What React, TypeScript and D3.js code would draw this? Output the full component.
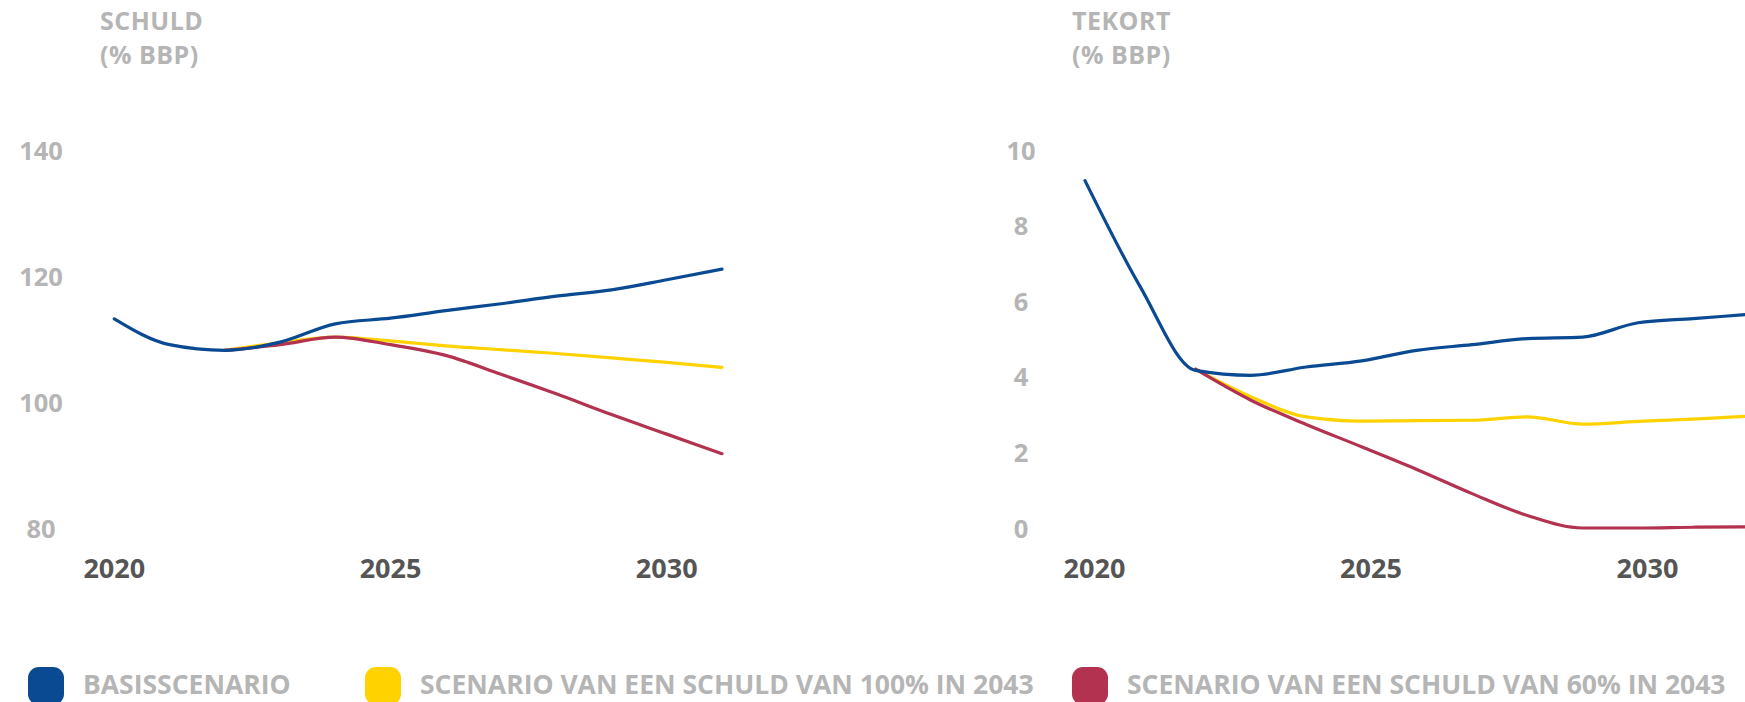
import React from "react";
import * as d3 from "d3";

// ---------- data ----------
const debtYears = [2020, 2021, 2022, 2023, 2024, 2025, 2026, 2027, 2028, 2029, 2030, 2031];
const debtBase = [113.2, 109.1, 108.2, 109.5, 112.4, 113.3, 114.5, 115.6, 116.8, 117.8, 119.4, 121.1];
const scenarioYears = [2022, 2023, 2024, 2025, 2026, 2027, 2028, 2029, 2030, 2031];
const debt100 = [108.2, 109.4, 110.3, 109.7, 108.9, 108.3, 107.7, 107.0, 106.3, 105.5];
const debt60 = [108.2, 109.1, 110.3, 109.1, 107.4, 104.4, 101.3, 98.0, 94.9, 91.8];

const deficitYears = [2020, 2021, 2022, 2023, 2024, 2025, 2026, 2027, 2028, 2029, 2030, 2031, 2032];
const deficitBase = [9.19, 6.38, 4.17, 4.04, 4.26, 4.42, 4.7, 4.85, 5.01, 5.05, 5.43, 5.54, 5.65];
const deficitScenarioYears = [2022, 2023, 2024, 2025, 2026, 2027, 2028, 2029, 2030, 2031, 2032];
const deficit100 = [4.2, 3.47, 2.94, 2.83, 2.84, 2.85, 2.94, 2.75, 2.82, 2.88, 2.96];
const deficit60 = [4.2, 3.38, 2.74, 2.15, 1.55, 0.91, 0.33, 0.0, 0.0, 0.02, 0.03];

const debtTicks = [80, 100, 120, 140];
const deficitTicks = [0, 2, 4, 6, 8, 10];
const yearTicks = [2020, 2025, 2030];

const legendLabels = [
  "BASISSCENARIO",
  "SCENARIO VAN EEN SCHULD VAN 100% IN 2043",
  "SCENARIO VAN EEN SCHULD VAN 60% IN 2043",
];

const BLUE = "#0a4a92";
const YELLOW = "#ffd200";
const RED = "#b2324f";
const colors = [BLUE, YELLOW, RED];
const TICK_GRAY = "#b5b5b5";
const AXIS_DARK = "#555555";
const FONT = "'Open Sans', 'DejaVu Sans', sans-serif";

type Series = { xs: number[]; ys: number[]; color: string };

function Panel(props: {
  title: string;
  titleX: number;
  xDomain: [number, number];
  xRange: [number, number];
  yDomain: [number, number];
  yTicks: number[];
  tickX: number;
  labelOffset: number;
  series: Series[];
}) {
  const x = d3.scaleLinear().domain(props.xDomain).range(props.xRange);
  const y = d3.scaleLinear().domain(props.yDomain).range([528, 150]);
  const line = d3
    .line<[number, number]>()
    .x((d) => x(d[0]))
    .y((d) => y(d[1]))
    .curve(d3.curveMonotoneX);
  return (
    <g>
      <text
        x={props.titleX}
        y={29.5}
        fontFamily={FONT}
        fontWeight={700}
        fontSize={25}
        letterSpacing={0.5}
        fill={TICK_GRAY}
      >
        {props.title}
      </text>
      <text
        x={props.titleX}
        y={63.8}
        fontFamily={FONT}
        fontWeight={700}
        fontSize={25}
        letterSpacing={0.5}
        fill={TICK_GRAY}
      >
        (% BBP)
      </text>
      {props.yTicks.map((t) => (
        <text
          key={t}
          x={props.tickX}
          y={y(t) + 9.5}
          textAnchor="middle"
          fontFamily={FONT}
          fontWeight={700}
          fontSize={25.5}
          fill={TICK_GRAY}
        >
          {t}
        </text>
      ))}
      {yearTicks.map((t) => (
        <text
          key={t}
          x={x(t) + props.labelOffset}
          y={578}
          textAnchor="middle"
          fontFamily={FONT}
          fontWeight={700}
          fontSize={27}
          fill={AXIS_DARK}
        >
          {t}
        </text>
      ))}
      {props.series.map((s, i) => (
        <path
          key={i}
          d={line(s.xs.map((v, j) => [v, s.ys[j]] as [number, number])) || ""}
          fill="none"
          stroke={s.color}
          strokeWidth={3.2}
          strokeLinejoin="round"
          strokeLinecap="round"
        />
      ))}
    </g>
  );
}

export default function App() {
  const legendX = [28, 365, 1072];
  return (
    <svg
      width={1745}
      height={702}
      style={{ position: "absolute", left: 0, top: 0, background: "#fff" }}
    >
      <Panel
        title="SCHULD"
        titleX={100}
        xDomain={[2020, 2031]}
        xRange={[114.3, 722]}
        yDomain={[80, 140]}
        yTicks={debtTicks}
        tickX={41}
        labelOffset={0}
        series={[
          { xs: scenarioYears, ys: debt100, color: YELLOW },
          { xs: scenarioYears, ys: debt60, color: RED },
          { xs: debtYears, ys: debtBase, color: BLUE },
        ]}
      />
      <Panel
        title="TEKORT"
        titleX={1072}
        xDomain={[2020, 2032]}
        xRange={[1085, 1748.6]}
        yDomain={[0, 10]}
        yTicks={deficitTicks}
        tickX={1021}
        labelOffset={9.5}
        series={[
          { xs: deficitScenarioYears, ys: deficit100, color: YELLOW },
          { xs: deficitScenarioYears, ys: deficit60, color: RED },
          { xs: deficitYears, ys: deficitBase, color: BLUE },
        ]}
      />
      {legendLabels.map((l, i) => (
        <g key={l}>
          <rect x={legendX[i]} y={667} width={36} height={38} rx={11} fill={colors[i]} />
          <text
            x={legendX[i] + 55}
            y={694}
            fontFamily={FONT}
            fontWeight={700}
            fontSize={26.5}
            fill={TICK_GRAY}
          >
            {l}
          </text>
        </g>
      ))}
    </svg>
  );
}
